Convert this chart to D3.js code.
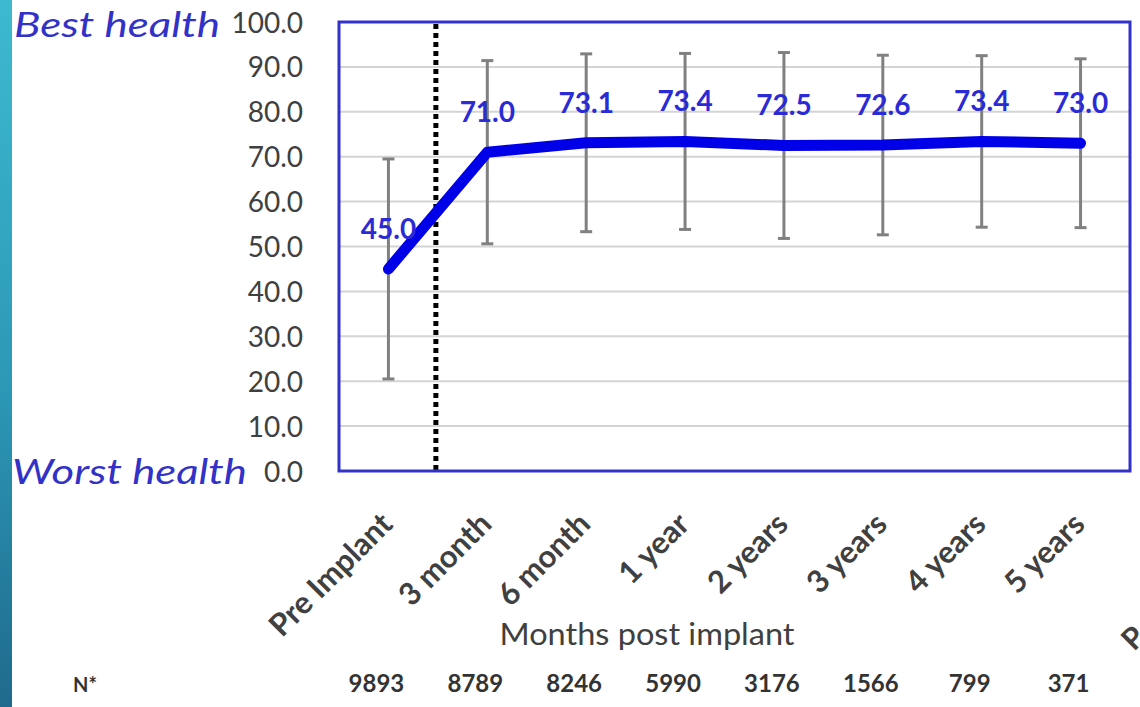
<!DOCTYPE html>
<html>
<head>
<meta charset="utf-8">
<script src="https://cdn.jsdelivr.net/npm/d3@7"></script>
<style>
  html, body { margin: 0; padding: 0; background: #ffffff; }
  svg { display: block; }
</style>
</head>
<body>
<svg id="chart" width="1140" height="707"></svg>
<script>
// Quality-of-life score by time since implant
const categories = ["Pre Implant", "3 month", "6 month", "1 year", "2 years", "3 years", "4 years", "5 years"];
const meanScore  = [45.0, 71.0, 73.1, 73.4, 72.5, 72.6, 73.4, 73.0];
const stdDev     = [24.5, 20.4, 19.8, 19.6, 20.7, 20.0, 19.1, 18.8];
const patientN   = [9893, 8789, 8246, 5990, 3176, 1566, 799, 371];
const yTicks     = [0, 10, 20, 30, 40, 50, 60, 70, 80, 90, 100];

const svg = d3.select("#chart");
const W = 1140, H = 707;
const plot = { left: 339, right: 1130, top: 22, bottom: 471 };

const blue = "#3232c8";
const lineBlue = "#0000e8";
const textGray = "#404040";

// slide accent strip on the left edge
const defs = svg.append("defs");
const grad = defs.append("linearGradient").attr("id", "strip").attr("x1", 0).attr("y1", 0).attr("x2", 0).attr("y2", 1);
grad.append("stop").attr("offset", "0%").attr("stop-color", "#3dbad0");
grad.append("stop").attr("offset", "55%").attr("stop-color", "#2c98b6");
grad.append("stop").attr("offset", "100%").attr("stop-color", "#1f6a8d");
svg.append("rect").attr("x", 0).attr("y", 0).attr("width", 12).attr("height", H).attr("fill", "url(#strip)");

const x = d3.scaleBand().domain(categories).range([plot.left, plot.right]).padding(0);
const y = d3.scaleLinear().domain([0, 100]).range([plot.bottom, plot.top]);
const cx = c => x(c) + x.bandwidth() / 2;

// horizontal gridlines
svg.append("g")
  .selectAll("line")
  .data(yTicks.filter(t => t > 0 && t < 100))
  .join("line")
  .attr("x1", plot.left).attr("x2", plot.right)
  .attr("y1", d => y(d)).attr("y2", d => y(d))
  .attr("stroke", "#d4d4d4").attr("stroke-width", 2);

// y axis labels
const yAxis = svg.append("g")
  .attr("transform", `translate(${plot.left},0)`)
  .call(d3.axisLeft(y).tickValues(yTicks).tickFormat(d3.format(".1f")).tickSize(0).tickPadding(36));
yAxis.select(".domain").remove();
yAxis.selectAll("text")
  .attr("font-family", "Lato, sans-serif")
  .attr("font-size", 28)
  .attr("fill", textGray)
  .attr("dy", "0.36em");

// scale end annotations
svg.append("text").text("Best health")
  .attr("x", 14).attr("y", 37)
  .attr("font-family", "Lato, sans-serif").attr("font-style", "italic")
  .attr("font-size", 34).attr("fill", blue)
  .attr("textLength", 206).attr("lengthAdjust", "spacingAndGlyphs");
svg.append("text").text("Worst health")
  .attr("x", 12).attr("y", 484)
  .attr("font-family", "Lato, sans-serif").attr("font-style", "italic")
  .attr("font-size", 34).attr("fill", blue)
  .attr("textLength", 235).attr("lengthAdjust", "spacingAndGlyphs");

// implant marker between pre-implant and follow-up
svg.append("line")
  .attr("x1", x(categories[1]) - 2).attr("x2", x(categories[1]) - 2)
  .attr("y1", plot.top + 2).attr("y2", plot.bottom)
  .attr("stroke", "#000").attr("stroke-width", 5)
  .attr("stroke-dasharray", "5 4");

// error bars (mean ± SD)
const eb = svg.append("g").attr("stroke", "#808080").attr("stroke-width", 3);
categories.forEach((c, i) => {
  const lo = meanScore[i] - stdDev[i], hi = meanScore[i] + stdDev[i];
  eb.append("line").attr("x1", cx(c)).attr("x2", cx(c)).attr("y1", y(lo)).attr("y2", y(hi));
  eb.append("line").attr("x1", cx(c) - 6).attr("x2", cx(c) + 6).attr("y1", y(lo)).attr("y2", y(lo));
  eb.append("line").attr("x1", cx(c) - 6).attr("x2", cx(c) + 6).attr("y1", y(hi)).attr("y2", y(hi));
});

// mean score line
const line = d3.line().x((d, i) => cx(categories[i])).y(d => y(d));
svg.append("path")
  .datum(meanScore)
  .attr("d", line)
  .attr("fill", "none")
  .attr("stroke", lineBlue)
  .attr("stroke-width", 11)
  .attr("stroke-linejoin", "round")
  .attr("stroke-linecap", "round");

// value labels
svg.append("g")
  .selectAll("text")
  .data(meanScore)
  .join("text")
  .attr("x", (d, i) => cx(categories[i]))
  .attr("y", d => y(d) - 30)
  .attr("text-anchor", "middle")
  .attr("font-family", "Lato, sans-serif")
  .attr("font-weight", "bold")
  .attr("font-size", 28)
  .attr("fill", "#2b2bd6")
  .text(d => d.toFixed(1));

// plot frame
svg.append("rect")
  .attr("x", plot.left).attr("y", plot.top)
  .attr("width", plot.right - plot.left).attr("height", plot.bottom - plot.top)
  .attr("fill", "none").attr("stroke", blue).attr("stroke-width", 3);

// rotated category labels
svg.append("g")
  .selectAll("text")
  .data(categories)
  .join("text")
  .attr("transform", d => `translate(${cx(d) + 6},${plot.bottom + 55}) rotate(-45)`)
  .attr("text-anchor", "end")
  .attr("font-family", "Lato, sans-serif")
  .attr("font-weight", "bold")
  .attr("font-size", 31)
  .attr("fill", textGray)
  .text(d => d);

// x axis title
svg.append("text").text("Months post implant")
  .attr("x", 647).attr("y", 645)
  .attr("text-anchor", "middle")
  .attr("font-family", "Lato, sans-serif")
  .attr("font-size", 31)
  .attr("fill", textGray)
  .attr("textLength", 295).attr("lengthAdjust", "spacingAndGlyphs");

// patient counts
svg.append("text").text("N*")
  .attr("x", 73).attr("y", 692)
  .attr("font-family", "Lato, sans-serif").attr("font-weight", "bold")
  .attr("font-size", 20).attr("fill", "#333");
svg.append("g")
  .selectAll("text")
  .data(patientN)
  .join("text")
  .attr("x", (d, i) => cx(categories[i]) - 12)
  .attr("y", 692)
  .attr("text-anchor", "middle")
  .attr("font-family", "Lato, sans-serif")
  .attr("font-weight", "bold")
  .attr("font-size", 24)
  .attr("fill", "#333")
  .text(d => d);

// label running off the right edge of the slide
svg.append("text").text("P")
  .attr("transform", `translate(1134,652) rotate(-45)`)
  .attr("font-family", "Lato, sans-serif").attr("font-weight", "bold")
  .attr("font-size", 30).attr("fill", textGray);
</script>
</body>
</html>
